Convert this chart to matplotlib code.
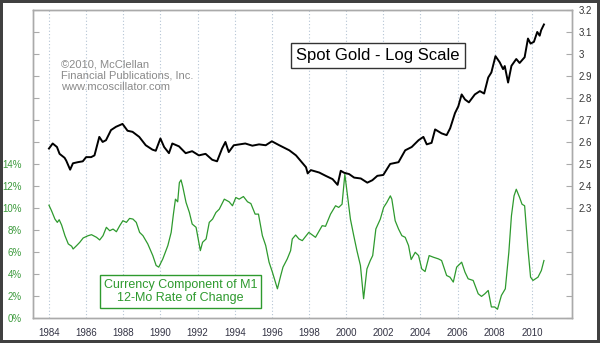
import matplotlib
matplotlib.use("Agg")
import matplotlib.pyplot as plt

plt.rcParams['font.family'] = ['Liberation Sans', 'DejaVu Sans']

# spot gold, log10 of price
gold_year = [1984.0, 1984.2, 1984.43, 1984.57, 1984.84, 1984.93, 1985.14, 1985.29, 1985.55, 1985.82,
             1986.0, 1986.27, 1986.45, 1986.71, 1986.89, 1987.07, 1987.34, 1987.61, 1987.96, 1988.23,
             1988.5, 1988.86, 1989.21, 1989.57, 1989.75, 1990.0, 1990.2, 1990.46, 1990.64, 1991.0,
             1991.36, 1991.71, 1992.07, 1992.43, 1992.79, 1993.05, 1993.32, 1993.5, 1993.68, 1993.95,
             1994.57, 1994.95, 1995.31, 1995.67, 1996.0, 1996.4, 1996.94, 1997.3, 1997.57, 1997.84,
             1997.93, 1998.1, 1998.55, 1998.9, 1999.27, 1999.54, 1999.71, 1999.89, 2000.16, 2000.43,
             2000.79, 2001.14, 2001.41, 2001.68, 2002.0, 2002.37, 2002.82, 2003.18, 2003.53, 2003.9,
             2004.16, 2004.34, 2004.6, 2004.79, 2005.14, 2005.41, 2005.6, 2005.86, 2006.04, 2006.22,
             2006.4, 2006.61, 2006.93, 2007.2, 2007.43, 2007.65, 2007.82, 2008.04, 2008.27, 2008.45,
             2008.54, 2008.72, 2008.9, 2009.16, 2009.34, 2009.61, 2009.79, 2009.93, 2010.11, 2010.29,
             2010.42, 2010.5, 2010.65]
gold_log = [2.57, 2.593, 2.577, 2.546, 2.528, 2.515, 2.474, 2.503, 2.508, 2.512,
            2.531, 2.531, 2.539, 2.623, 2.60, 2.608, 2.654, 2.669, 2.682, 2.651,
            2.646, 2.623, 2.585, 2.565, 2.56, 2.616, 2.577, 2.549, 2.593, 2.58,
            2.549, 2.558, 2.539, 2.546, 2.519, 2.512, 2.57, 2.60, 2.554, 2.585,
            2.593, 2.583, 2.589, 2.585, 2.603, 2.585, 2.562, 2.539, 2.512, 2.485,
            2.457, 2.472, 2.461, 2.446, 2.431, 2.405, 2.469, 2.46, 2.454, 2.438,
            2.434, 2.415, 2.426, 2.446, 2.45, 2.50, 2.508, 2.562, 2.577, 2.608,
            2.623, 2.589, 2.596, 2.657, 2.639, 2.631, 2.662, 2.731, 2.762, 2.816,
            2.793, 2.78, 2.816, 2.831, 2.82, 2.893, 2.916, 2.99, 2.962, 2.931,
            2.945, 2.87, 2.946, 2.977, 2.959, 2.985, 3.07, 3.047, 3.055, 3.10,
            3.083, 3.108, 3.134]

# currency component of M1, 12-month rate of change (%)
m1_year = [1984.0, 1984.14, 1984.32, 1984.45, 1984.55, 1984.68, 1984.86, 1985.04, 1985.22, 1985.3,
           1985.49, 1985.66, 1985.84, 1986.11, 1986.29, 1986.56, 1986.73, 1986.91, 1987.09, 1987.27,
           1987.45, 1987.63, 1987.81, 1987.98, 1988.17, 1988.34, 1988.52, 1988.7, 1988.88, 1989.06,
           1989.32, 1989.59, 1989.77, 1989.91, 1990.13, 1990.4, 1990.58, 1990.7, 1990.81, 1990.93,
           1991.02, 1991.11, 1991.2, 1991.38, 1991.56, 1991.71, 1991.92, 1992.15, 1992.27, 1992.46,
           1992.63, 1992.81, 1992.99, 1993.17, 1993.44, 1993.7, 1993.88, 1994.06, 1994.24, 1994.47,
           1994.69, 1994.87, 1995.1, 1995.28, 1995.49, 1995.67, 1995.85, 1996.03, 1996.3, 1996.48,
           1996.6, 1996.83, 1997.01, 1997.1, 1997.28, 1997.46, 1997.64, 1997.99, 1998.35, 1998.71,
           1998.89, 1999.16, 1999.43, 1999.6, 1999.78, 1999.93, 2000.05, 2000.23, 2000.41, 2000.58,
           2000.77, 2000.94, 2001.12, 2001.3, 2001.43, 2001.6, 2001.84, 2002.02, 2002.19, 2002.38,
           2002.46, 2002.64, 2002.82, 2003.0, 2003.18, 2003.36, 2003.5, 2003.72, 2003.9, 2004.07,
           2004.25, 2004.47, 2004.7, 2004.97, 2005.14, 2005.41, 2005.59, 2005.77, 2005.95, 2006.22,
           2006.4, 2006.57, 2006.84, 2007.11, 2007.29, 2007.47, 2007.65, 2007.82, 2008.0, 2008.15,
           2008.36, 2008.57, 2008.76, 2008.9, 2009.04, 2009.16, 2009.34, 2009.47, 2009.61, 2009.79,
           2009.93, 2010.06, 2010.33, 2010.51, 2010.65]
m1_roc = [10.25, 9.74, 8.99, 8.69, 8.93, 8.45, 7.48, 6.73, 6.52, 6.27,
          6.58, 6.88, 7.27, 7.48, 7.57, 7.33, 7.09, 7.48, 8.24, 7.93,
          8.08, 7.84, 8.39, 8.84, 8.69, 9.05, 8.99, 8.69, 7.78, 7.48,
          6.73, 5.67, 4.77, 4.62, 5.37, 6.58, 7.78, 9.44, 10.8, 10.56,
          12.3, 12.55, 11.96, 10.5, 9.59, 8.54, 8.24, 6.12, 6.88, 7.18,
          8.69, 8.99, 9.59, 9.89, 10.8, 10.56, 10.2, 10.95, 10.8, 11.04,
          10.56, 10.4, 9.44, 9.44, 7.48, 6.58, 5.07, 4.16, 2.65, 3.86,
          4.62, 5.37, 6.12, 7.18, 7.54, 7.18, 7.03, 7.78, 7.33, 8.39,
          8.33, 9.44, 10.2, 10.05, 10.34, 13.06, 11.4, 8.99, 7.48, 6.12,
          4.77, 1.75, 4.46, 5.22, 5.67, 8.09, 8.99, 10.05, 10.5, 11.1,
          10.8, 8.84, 8.09, 7.48, 7.33, 6.58, 5.31, 5.97, 5.67, 4.46,
          4.22, 5.67, 5.52, 5.37, 5.22, 3.86, 3.71, 3.26, 4.62, 5.07,
          4.16, 3.56, 3.41, 2.2, 1.96, 2.2, 2.5, 1.0, 1.0, 0.79,
          2.05, 2.65, 5.97, 9.29, 11.1, 11.7, 10.95, 10.34, 10.2, 6.27,
          3.71, 3.41, 3.71, 4.31, 5.22]

year_ticks = list(range(1984, 2011, 2))
pct_ticks = list(range(0, 29, 2))
pct_labels = [f"{p}%" if p <= 14 else "" for p in pct_ticks]
gold_ticks = [1.8 + 0.1 * i for i in range(15)]
gold_labels = [f"{t:g}" if t > 2.25 else "" for t in [round(v, 1) for v in gold_ticks]]

fig = plt.figure(figsize=(6.0, 3.43), dpi=100)
fig.patch.set_facecolor('white')
fig.patch.set_edgecolor('#404040')
fig.patch.set_linewidth(3)

ax = fig.add_axes([0.055, 0.073, 0.898, 0.898])
ax2 = ax.twinx()

ax.plot(m1_year, m1_roc, color='#2e9a2e', lw=0.9)
ax2.plot(gold_year, gold_log, color='black', lw=1.4)

ax.set_xlim(1983.14, 2012.15)
ax.set_ylim(0, 28)
ax2.set_ylim(1.8, 3.2)

ax.set_xticks(year_ticks)
ax.set_xticklabels([str(y) for y in year_ticks], fontsize=7, color='#333344')
ax.tick_params(axis='x', length=0, pad=7)
ax.set_yticks(pct_ticks)
ax.set_yticklabels(pct_labels, fontsize=7, color='#3c9a3c')
ax.tick_params(axis='y', direction='in', length=4.5, color='#aaaaaa', pad=8)
ax2.set_yticks(gold_ticks)
ax2.set_yticklabels(gold_labels, fontsize=7, color='#333333')
ax2.tick_params(axis='y', direction='in', length=4.5, color='#aaaaaa', pad=5)

ax.grid(axis='x', linestyle=(0, (1, 2)), color='#b4c4d4', lw=0.8)
for a in (ax, ax2):
    for s in a.spines.values():
        s.set_color('#aaaaaa')
        s.set_linewidth(1)

# labels
ax.text(0.052, 0.84, "©2010, McClellan\nFinancial Publications, Inc.\nwww.mcoscillator.com",
        transform=ax.transAxes, fontsize=8, color='#8a8a8a', va='top', ha='left', linespacing=1.15)
ax.text(0.64, 0.851, "Spot Gold - Log Scale", transform=ax.transAxes, fontsize=12,
        ha='center', va='center', color='black',
        bbox=dict(boxstyle='square,pad=0.3', fc='white', ec='#333333', lw=1))
ax.text(0.274, 0.086, "Currency Component of M1\n12-Mo Rate of Change", transform=ax.transAxes,
        fontsize=9, ha='center', va='center', color='#2e9a2e', linespacing=1.2,
        bbox=dict(boxstyle='square,pad=0.3', fc='white', ec='#2e9a2e', lw=1))

fig.savefig("out.png", dpi=100, facecolor=fig.get_facecolor(), edgecolor=fig.get_edgecolor())
